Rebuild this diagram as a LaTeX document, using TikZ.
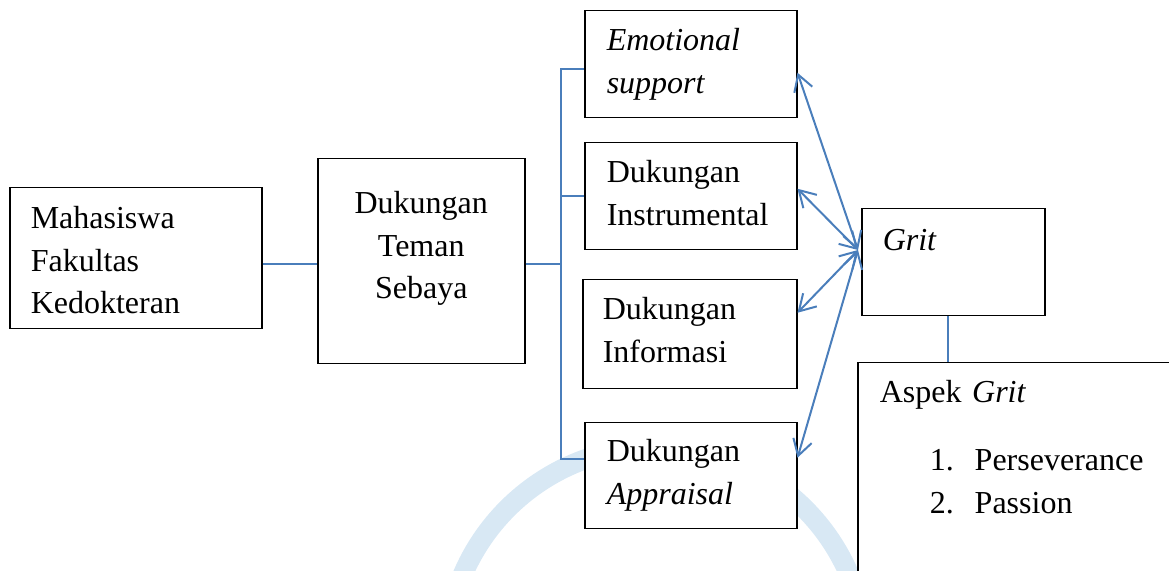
\documentclass[tikz,border=0pt]{standalone}
\usepackage{fontspec}
\setmainfont{Liberation Serif}
\usetikzlibrary{arrows.meta,positioning,calc}

\definecolor{linkblue}{RGB}{74,126,187}
\definecolor{wmblue}{RGB}{216,232,244}

\begin{document}
\begin{tikzpicture}[
    x=0.5pt,y=-0.5pt,
    box/.style={draw, line width=0.75pt, fill=white, anchor=north west,
      inner ysep=0pt, font=\fontsize{16pt}{21.25pt}\selectfont},
    leftbox/.style={box, align=left},
    facet/.style={leftbox, text height=20pt, text depth=33.5pt,
      inner xsep=11pt, text width=84pt},
    link/.style={draw=linkblue, line width=1pt},
    twoway/.style={link,
      {Straight Barb[length=8pt,width=9.5pt]}-{Straight Barb[length=8pt,width=9.5pt]}}
  ]
    \useasboundingbox (0,0) rectangle (1169,571);
    \clip (0,0) rectangle (1169,571);

    % faint watermark behind the chart
    \draw[wmblue, line width=10pt] (656,657) circle[radius=210];

    \node[leftbox, inner xsep=10.5pt, text width=105pt,
      text height=20.5pt, text depth=50pt] (mhs) at (9,187)
      {Mahasiswa\\Fakultas\\Kedokteran};
    \node[box, align=center, inner xsep=0pt, text width=103.5pt,
      text height=27.5pt, text depth=75pt] (teman) at (317,158)
      {Dukungan\\Teman\\Sebaya};

    \node[facet] (emo) at (584,10) {\textit{Emotional}\\\textit{support}};
    \node[facet] (inst) at (584,142) {Dukungan\\Instrumental};
    \node[facet, inner xsep=10pt, text width=87pt, text depth=34.5pt] (info) at (582,279)
      {Dukungan\\Informasi};
    \node[facet, text height=19.5pt] (appr) at (584,422)
      {Dukungan\\\textit{Appraisal}};

    \node[leftbox, inner xsep=10.5pt, text width=70.5pt,
      text height=21pt, text depth=32.5pt] (grit) at (861,208) {\textit{Grit}};
    \node[leftbox, inner xsep=11pt, text width=149.5pt,
      text height=20pt, text depth=99pt] (aspek) at (857,362)
      {Aspek \textit{Grit}\\[12.75pt]
       \hspace*{25pt}\makebox[22.5pt][l]{1.}Perseverance\\
       \hspace*{25pt}\makebox[22.5pt][l]{2.}Passion};

    \coordinate (split) at (561,264);
    \coordinate (bustop) at (561,69);
    \coordinate (busend) at (561,459);
    \coordinate (hub) at (858,250);

    \draw[link] (mhs.east |- split) -- (teman.west |- split);
    \draw[link] (teman.east |- split) -- (split);
    \draw[link] (emo.west |- bustop) -- (bustop) -- (busend) -- (appr.west |- busend);
    \draw[link] (inst.west) -- (inst.west -| split);

    \draw[twoway] ([yshift=-4.25pt]emo.east) -- (hub);
    \draw[twoway] ([yshift=3.75pt]inst.east) -- (hub);
    \draw[twoway] ([yshift=10.75pt]info.east) -- (hub);
    \draw[twoway] ([yshift=9pt]appr.east) -- (hub);

    \draw[link] ([xshift=-2.75pt]grit.south) -- ([xshift=-2.75pt]grit.south |- aspek.north);
  \end{tikzpicture}
\end{document}
